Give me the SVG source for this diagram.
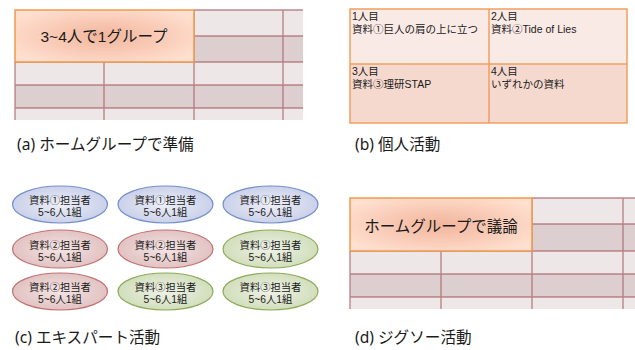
<svg xmlns="http://www.w3.org/2000/svg" width="635" height="350" viewBox="0 0 635 350">
<defs>
<radialGradient id="og" cx="0.5" cy="0.5" r="0.6">
<stop offset="0" stop-color="#F2B59C"/>
<stop offset="1" stop-color="#FFDFCF"/>
</radialGradient>
<radialGradient id="gb" cx="0.5" cy="0.5" r="0.55">
<stop offset="0" stop-color="#EEF0F7"/>
<stop offset="1" stop-color="#C6CDE8"/>
</radialGradient>
<radialGradient id="gr" cx="0.5" cy="0.5" r="0.55">
<stop offset="0" stop-color="#F4E4E4"/>
<stop offset="1" stop-color="#E0BFBF"/>
</radialGradient>
<radialGradient id="gg" cx="0.5" cy="0.5" r="0.55">
<stop offset="0" stop-color="#EEF2E6"/>
<stop offset="1" stop-color="#CFDCB8"/>
</radialGradient>
</defs>
<style>
text{font-family:"Liberation Sans","Noto Sans CJK JP",sans-serif;fill:#1a1a1a}
.c{font-family:"Noto Sans CJK JP",sans-serif}
.lt{fill:#EEE7E7}
.dk{fill:#DDCFD0}
.ln{stroke:#A8646A;stroke-opacity:0.75;stroke-width:1.4;fill:none}
.ob{fill:url(#og);stroke:#EF9B4E;stroke-width:1.5}
.big{font-size:15.5px;text-anchor:middle}
.cap{font-size:15.6px;font-family:"Noto Sans","Noto Sans CJK JP",sans-serif}
.sm{font-size:10.5px}
.el{font-size:10.3px;text-anchor:middle}
.eb{fill:url(#gb);stroke:#7290C8;stroke-width:1.2}
.er{fill:url(#gr);stroke:#C07272;stroke-width:1.2}
.eg{fill:url(#gg);stroke:#8CAA58;stroke-width:1.2}
.pb{stroke:#F0A060;stroke-width:1.5}
</style>

<!-- Panel (a) -->
<g id="tableA">
<rect class="lt" x="194" y="10" width="109" height="26"/>
<rect class="dk" x="194" y="36" width="109" height="26"/>
<rect class="lt" x="15" y="62" width="288" height="23"/>
<rect class="dk" x="15" y="85" width="288" height="23"/>
<rect class="lt" x="15" y="108" width="288" height="12"/>
<path class="ln" d="M194 10H303M194 36H303M15 62H303M15 85H303M15 108H303M15 62V120M104 62V120M194 10V120M283 10V120"/>
</g>
<g id="homeA">
<rect class="ob" x="15" y="10" width="179" height="52"/>
<text class="big" x="104" y="42">3~4人で1グループ</text>
</g>
<text class="cap" x="17" y="150">(a) ホームグループで準備</text>

<!-- Panel (b) -->
<g id="individual">
<rect x="350" y="9" width="139" height="55" fill="#FAEAE6"/>
<rect x="489" y="9" width="138" height="55" fill="#FAEAE6"/>
<rect x="350" y="64" width="139" height="59" fill="#F5D9CE"/>
<rect x="489" y="64" width="138" height="59" fill="#F5D9CE"/>
<path class="pb" fill="none" d="M350 9H627V123H350ZM489 9V123M350 64H627"/>
<text class="sm" x="352" y="20">1人目</text>
<text class="sm" x="352" y="33">資料<tspan class="c">①</tspan>巨人の肩の上に立つ</text>
<text class="sm" x="491" y="20">2人目</text>
<text class="sm" x="491" y="33">資料<tspan class="c">②</tspan>Tide of Lies</text>
<text class="sm" x="352" y="75">3人目</text>
<text class="sm" x="352" y="88">資料<tspan class="c">③</tspan>理研STAP</text>
<text class="sm" x="491" y="75">4人目</text>
<text class="sm" x="491" y="88">いずれかの資料</text>
</g>
<text class="cap" x="355" y="150">(b) 個人活動</text>

<!-- Panel (c) -->
<g id="e11"><ellipse class="eb" cx="60" cy="204.5" rx="47.5" ry="18.5"/><text class="el" x="60" y="204">資料<tspan class="c">①</tspan>担当者</text><text class="el" x="60" y="216">5~6人1組</text></g>
<g id="e12"><ellipse class="eb" cx="165.5" cy="204.5" rx="47.5" ry="18.5"/><text class="el" x="165.5" y="204">資料<tspan class="c">①</tspan>担当者</text><text class="el" x="165.5" y="216">5~6人1組</text></g>
<g id="e13"><ellipse class="eb" cx="270.5" cy="204.5" rx="47.5" ry="18.5"/><text class="el" x="270.5" y="204">資料<tspan class="c">①</tspan>担当者</text><text class="el" x="270.5" y="216">5~6人1組</text></g>
<g id="e21"><ellipse class="er" cx="60" cy="249" rx="47.5" ry="19"/><text class="el" x="60" y="248.5">資料<tspan class="c">②</tspan>担当者</text><text class="el" x="60" y="260.5">5~6人1組</text></g>
<g id="e22"><ellipse class="er" cx="165.5" cy="249" rx="47.5" ry="19"/><text class="el" x="165.5" y="248.5">資料<tspan class="c">②</tspan>担当者</text><text class="el" x="165.5" y="260.5">5~6人1組</text></g>
<g id="e23"><ellipse class="eg" cx="270.5" cy="249" rx="47.5" ry="19"/><text class="el" x="270.5" y="248.5">資料<tspan class="c">③</tspan>担当者</text><text class="el" x="270.5" y="260.5">5~6人1組</text></g>
<g id="e31"><ellipse class="er" cx="60" cy="291.5" rx="47.5" ry="18.5"/><text class="el" x="60" y="291">資料<tspan class="c">②</tspan>担当者</text><text class="el" x="60" y="303">5~6人1組</text></g>
<g id="e32"><ellipse class="eg" cx="165.5" cy="291.5" rx="47.5" ry="18.5"/><text class="el" x="165.5" y="291">資料<tspan class="c">③</tspan>担当者</text><text class="el" x="165.5" y="303">5~6人1組</text></g>
<g id="e33"><ellipse class="eg" cx="270.5" cy="291.5" rx="47.5" ry="18.5"/><text class="el" x="270.5" y="291">資料<tspan class="c">③</tspan>担当者</text><text class="el" x="270.5" y="303">5~6人1組</text></g>
<text class="cap" x="15" y="343">(c) エキスパート活動</text>

<!-- Panel (d) -->
<g id="tableD">
<rect class="lt" x="532" y="198" width="103" height="26"/>
<rect class="dk" x="532" y="224" width="103" height="27"/>
<rect class="lt" x="350" y="251" width="285" height="23"/>
<rect class="dk" x="350" y="274" width="285" height="23"/>
<rect class="lt" x="350" y="297" width="285" height="12"/>
<path class="ln" d="M532 198H635M532 224H635M350 251H635M350 274H635M350 297H635M350 251V309M441 251V309M532 198V309M623 198V309"/>
</g>
<g id="homeD">
<rect class="ob" x="350" y="198" width="182" height="53"/>
<text class="big" x="441" y="232">ホームグループで議論</text>
</g>
<text class="cap" x="355" y="343">(d) ジグソー活動</text>
</svg>
